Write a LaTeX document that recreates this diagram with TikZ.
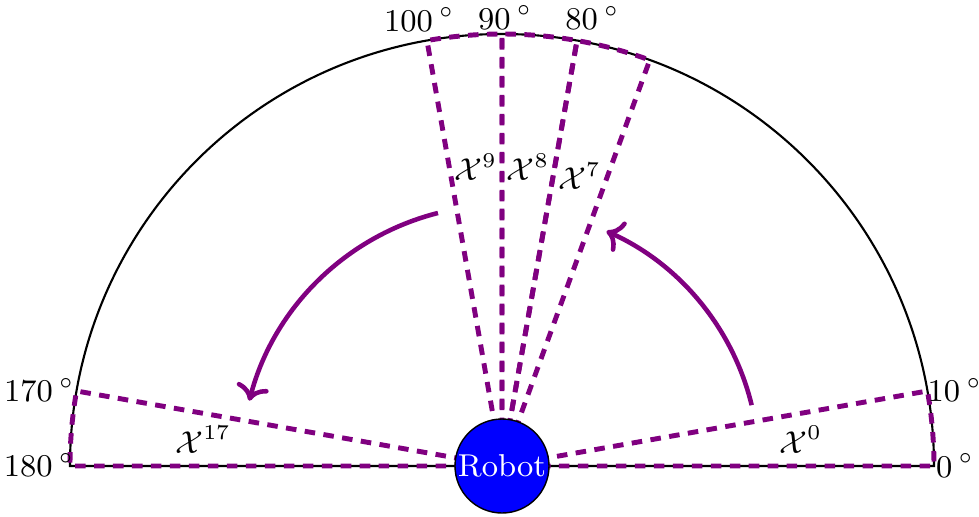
\documentclass[tikz,border=0pt]{standalone}
\usepackage{amsmath}
\usepackage{xcolor}
\usepackage{tikz}
\usetikzlibrary{arrows.meta}
\definecolor{sectorviolet}{RGB}{128,0,128}

\begin{document}
\begin{tikzpicture}[
  font=\small,
  sector/.style={draw=sectorviolet,dash pattern=on 3pt off 2.4pt,line width=1.4pt},
  sweep/.style={->,draw=sectorviolet,line width=1.3pt},
  robot/.style={circle,draw,fill=blue,text=white,minimum size=0.94cm,inner sep=0pt},
  deg/.style={inner sep=0pt}
]
\useasboundingbox (-5.02,-0.50) rectangle (4.77,4.66);
\coordinate (o) at (0,0);
% field of view
\draw[line width=0.6pt] (0:4.32) arc[start angle=0,end angle=180,radius=4.32] -- cycle;
% sectors
\foreach \a in {0,70,80,90,170}
  \draw[sector] (o) -- (\a:4.32) arc[start angle=\a,end angle=\a+10,radius=4.32] -- cycle;
\foreach \k/\a in {0/5,7/75,8/85,9/95,17/175}
  \node (x\k) at (\a:3.0) {$\mathcal{X}^{\k}$};
% angle labels
\foreach \a/\p/\r in {0/0/4.53,10/9.5/4.59,80/78.6/4.57,90/89.6/4.48,100/100.5/4.54,170/170.7/4.69,180/179.9/4.63}
  \node[deg] (d\a) at (\p:\r) {\a\hspace{1.8pt}$^\circ$};
% sweeps
\coordinate (sr) at (13.7:2.57);
\coordinate (sl) at (104.2:2.61);
\draw[sweep] (sr) arc[start angle=13.7,end angle=66,radius=2.57];
\draw[sweep] (sl) arc[start angle=104.2,end angle=165.5,radius=2.61];
\node[robot] (robot) at (o) {Robot};
\end{tikzpicture}
\end{document}
